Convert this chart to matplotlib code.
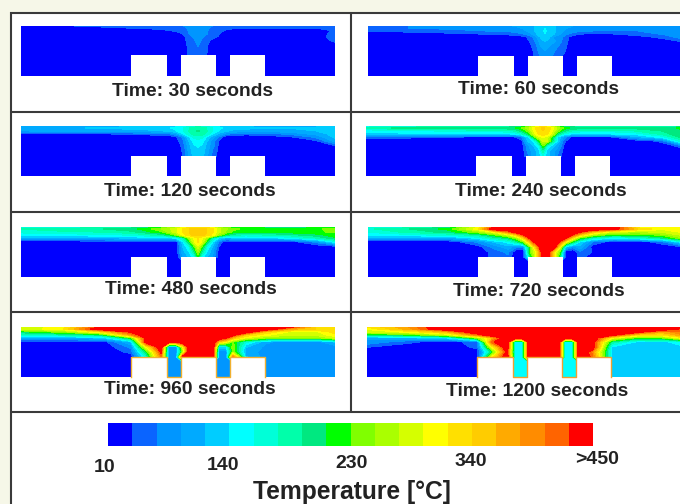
import matplotlib
matplotlib.use("Agg")
import matplotlib.pyplot as plt
import numpy as np
from matplotlib.colors import ListedColormap, BoundaryNorm
from matplotlib.patches import Rectangle

plt.rcParams['font.family'] = ['Liberation Sans', 'DejaVu Sans']

W, H = 680, 504
X = [0, 40, 80, 110, 125, 140, 148, 155, 162, 168, 173, 177, 181, 186, 192, 198, 205, 212, 225, 245, 270, 295, 314]
Y = [0, 2, 5, 8, 11, 15, 20, 25, 30, 36, 50]
BLOCKS = [(110, 146), (160, 195), (209, 244)]
BLOCK_TOP = 29.5
LEVELS = [10 + 22 * i for i in range(21)]
COLORS = ['#0000FF', '#0A64FF', '#0096FF', '#00AAFF', '#00CDFF', '#00FFFF', '#00FFD8', '#00FFAA', '#00E880', '#00FF00',
          '#80FF00', '#AAFF00', '#D5FF00', '#FFFF00', '#FFE000', '#FFCC00', '#FFAA00', '#FF8C00', '#FF6400', '#FF0000']
TICK_LABELS = ['10', '140', '230', '340', '>450']
TICK_X = [105, 223, 352, 471, 597]
TICK_Y = [467, 465, 464, 462, 460]

C10 = [10] * 23
T30 = [
 [28,32,38,42,45,48,50,52,55,60,66,70,66,60,55,50,46,44,42,40,40,40,40],
 [14,20,30,36,38,40,42,45,50,58,66,72,66,58,50,44,40,38,36,36,36,36,38],
 [10,10,14,18,22,28,32,36,44,56,66,72,66,56,44,36,30,24,20,18,18,18,36],
 [10,10,10,10,10,12,16,25,34,54,66,72,66,56,42,34,20,12,10,10,10,10,44],
 [10,10,10,10,10,10,10,14,28,40,60,70,60,46,40,30,14,10,10,10,10,16,46],
 [10,10,10,10,10,10,10,10,26,38,50,66,50,38,26,14,10,10,10,10,10,10,40],
 [10,10,10,10,10,10,10,10,24,36,44,56,44,34,14,10,10,10,10,10,10,10,14],
 [10,10,10,10,10,10,10,10,24,36,42,46,42,34,10,10,10,10,10,10,10,10,10],
 [10,10,10,10,10,10,10,10,20,36,42,44,42,30,10,10,10,10,10,10,10,10,10],
 C10, C10]
T60 = [
 [50,54,60,64,70,74,78,82,90,100,110,116,110,100,90,82,76,72,70,68,68,68,70],
 [42,54,60,64,66,68,72,78,88,102,114,120,114,102,88,78,70,66,64,62,62,64,72],
 [34,40,46,52,56,58,62,70,84,102,116,122,116,102,84,70,62,58,54,52,54,60,72],
 [14,18,26,32,36,40,46,54,70,96,114,120,114,100,78,58,46,34,26,32,44,56,70],
 [10,10,10,12,14,14,14,24,40,70,104,112,104,70,62,45,14,12,12,14,22,40,66],
 [10,10,10,10,10,10,10,14,34,60,90,100,90,80,60,38,14,10,10,10,10,20,36],
 [10,10,10,10,10,10,10,10,26,50,78,88,78,64,50,34,10,10,10,10,10,10,12],
 [10,10,10,10,10,10,10,10,20,44,66,76,66,56,44,30,10,10,10,10,10,10,10],
 [10,10,10,10,10,10,10,10,14,40,60,70,60,50,40,20,10,10,10,10,10,10,10],
 C10, C10]
T120 = [
 [70,80,90,95,100,105,110,115,125,140,150,155,150,140,125,115,105,100,95,92,90,92,95],
 [90,95,100,105,108,112,118,126,142,162,175,180,175,162,142,126,114,108,104,100,100,104,110],
 [75,80,84,88,92,96,104,118,140,165,182,188,182,165,140,118,102,92,88,84,88,98,110],
 [22,26,30,36,40,44,50,76,118,155,172,176,172,155,120,90,60,48,40,44,60,84,108],
 [10,10,10,12,14,14,14,30,60,118,150,156,150,118,85,50,14,14,14,18,30,60,104],
 [10,10,10,10,10,10,10,20,50,100,128,134,128,100,60,30,10,10,10,10,14,28,84],
 [10,10,10,10,10,10,10,14,40,90,118,122,118,90,60,26,10,10,10,10,10,10,30],
 [10,10,10,10,10,10,10,10,36,84,112,116,112,84,50,24,10,10,10,10,10,10,10],
 [10,10,10,10,10,10,10,10,34,80,106,110,106,80,45,20,10,10,10,10,10,10,10],
 C10, C10]
T240 = [
 [110,130,140,150,155,165,175,190,220,270,300,310,300,270,220,190,175,165,160,155,155,160,165],
 [170,195,195,195,195,200,205,225,265,310,335,345,335,310,265,225,205,200,195,195,195,200,210],
 [125,135,145,150,150,155,165,190,240,300,335,340,335,300,240,190,165,155,150,150,165,185,205],
 [110,115,115,115,115,118,122,150,200,285,325,330,325,285,190,140,120,118,115,120,130,170,205],
 [40,40,35,30,30,30,30,50,120,220,290,300,290,220,120,70,30,30,30,30,90,130,190],
 [10,10,10,10,10,10,10,20,100,130,210,280,280,200,110,40,10,10,10,10,14,40,150],
 [10,10,10,10,10,10,10,10,70,100,140,230,150,110,80,30,10,10,10,10,10,10,40],
 [10,10,10,10,10,10,10,10,60,90,110,175,110,90,60,20,10,10,10,10,10,10,10],
 [10,10,10,10,10,10,10,10,50,90,110,140,110,90,50,20,10,10,10,10,10,10,10],
 C10, C10]
T480 = [
 [120,140,155,170,190,210,240,260,290,310,320,325,320,310,290,250,230,215,200,195,190,195,200],
 [165,175,185,200,220,250,270,290,320,340,350,355,350,340,320,280,255,235,225,220,220,225,240],
 [150,160,165,180,200,225,260,290,320,340,350,355,350,340,320,280,250,225,215,210,220,225,235],
 [125,130,135,145,160,175,200,240,305,335,345,345,345,335,310,250,200,170,160,165,180,200,220],
 [85,90,95,100,110,110,115,125,170,260,300,320,300,260,170,120,90,100,105,110,130,165,205],
 [10,12,12,14,14,14,14,14,120,200,290,320,290,200,120,50,14,14,14,14,20,60,130],
 [10,10,10,10,10,10,10,10,100,140,220,290,220,140,90,30,10,10,10,10,10,10,12],
 [10,10,10,10,10,10,10,10,90,120,180,250,180,120,80,20,10,10,10,10,10,10,10],
 [10,10,10,10,10,10,10,10,80,100,130,210,130,100,70,14,10,10,10,10,10,10,10],
 C10, C10]
T720 = [
 [130,150,180,300,420,470,470,470,470,470,470,470,470,470,470,470,470,470,470,470,300,300,310],
 [160,185,215,310,470,480,480,480,480,480,480,480,480,480,480,480,480,480,480,455,340,300,320],
 [145,170,195,250,300,400,470,480,480,480,480,480,480,480,480,480,480,440,350,280,270,280,300],
 [125,135,150,175,220,280,340,420,480,480,480,480,480,480,480,480,420,340,260,210,210,240,280],
 [85,80,85,130,170,200,250,330,450,480,480,480,480,480,480,440,320,230,160,130,150,190,250],
 [10,10,12,60,100,130,170,230,350,470,480,480,480,480,420,300,200,120,50,20,14,50,130],
 [10,10,10,20,60,90,60,60,230,360,470,480,480,470,300,100,60,90,20,10,10,10,30],
 [10,10,10,16,40,60,10,10,230,300,420,480,450,320,230,10,10,50,30,10,10,10,10],
 [10,10,10,10,40,50,10,10,180,300,420,480,450,320,180,10,10,40,20,10,10,10,10],
 C10, C10]
T960 = [
 [290,300,440,480,480,480,480,480,480,480,480,480,480,480,480,480,480,480,480,480,440,340,330],
 [280,310,470,480,480,480,480,480,480,480,480,480,480,480,480,480,480,480,480,480,370,340,340],
 [200,240,320,440,480,480,480,480,480,480,480,480,480,480,480,480,480,480,470,340,290,290,330],
 [150,165,190,380,480,480,480,480,480,480,480,480,480,480,480,480,480,450,340,300,280,280,310],
 [90,90,100,220,450,480,480,480,480,480,480,480,480,480,480,480,440,350,290,250,240,240,280],
 [14,14,14,100,460,480,460,460,480,480,480,480,480,480,480,340,300,230,150,80,65,65,100],
 [10,10,10,60,300,480,65,65,300,480,480,480,480,480,480,120,120,250,100,70,65,65,65],
 [10,10,10,40,200,440,65,65,250,480,480,480,480,480,480,65,65,250,90,65,65,65,65],
 [10,10,10,14,150,400,65,65,480,480,480,480,480,480,480,65,65,400,100,65,65,65,65],
 [10,10,10,10,10,10,65,65,65,65,65,65,65,65,65,65,65,65,65,65,65,65,65],
 [10,10,10,10,10,10,65,65,65,65,65,65,65,65,65,65,65,65,65,65,65,65,65]]
T1200 = [
 [320,380,480,480,480,480,480,480,480,480,480,480,480,480,480,480,480,480,480,480,480,470,430],
 [300,370,480,480,480,480,480,480,480,480,480,480,480,480,480,480,480,480,480,480,480,480,420],
 [280,300,360,480,480,480,480,480,480,480,480,480,480,480,480,480,480,480,480,480,450,370,400],
 [190,210,270,400,480,480,480,480,480,480,480,480,480,480,480,480,480,480,480,450,330,320,380],
 [80,90,120,240,350,480,480,480,480,480,480,480,480,480,480,480,480,480,480,300,220,230,300],
 [70,40,14,50,420,480,125,125,480,480,480,480,480,480,480,125,125,480,470,180,115,115,130],
 [34,14,10,40,300,480,125,125,480,480,480,480,480,480,480,125,125,480,480,120,115,115,115],
 [10,10,10,20,200,450,125,125,480,480,480,480,480,480,480,125,125,480,400,115,115,115,115],
 [10,10,10,14,300,480,125,125,480,480,480,480,480,480,480,125,125,480,420,115,115,115,115],
 [10,10,10,14,14,14,125,125,125,125,125,125,125,125,125,125,125,125,115,115,115,115,115],
 [10,10,10,14,14,14,125,125,125,125,125,125,125,125,125,125,125,125,115,115,115,115,115]]

PANELS = [
 (T30, 21, 25.5, 'Time: 30 seconds', 193, 91, None),
 (T60, 368, 26, 'Time: 60 seconds', 538, 89, None),
 (T120, 21, 126, 'Time: 120 seconds', 190, 191, None),
 (T240, 366, 126, 'Time: 240 seconds', 541, 191, None),
 (T480, 21, 227, 'Time: 480 seconds', 191, 289, None),
 (T720, 368, 227, 'Time: 720 seconds', 539, 291, None),
 (T960, 21, 327, 'Time: 960 seconds', 190, 390, '#F0B030'),
 (T1200, 367, 327, 'Time: 1200 seconds', 537, 392, '#F0A030'),
]

cmap = ListedColormap(COLORS)
cmap.set_over(COLORS[-1])
cmap.set_under(COLORS[0])
norm = BoundaryNorm(LEVELS, cmap.N, extend='neither', clip=False)

fig = plt.figure(figsize=(W / 100, H / 100), dpi=100, facecolor='#F6F7E8')


def axes_px(x0, y0, w, h, **kw):
    return fig.add_axes([x0 / W, 1 - (y0 + h) / H, w / W, h / H], **kw)


bg = axes_px(0, 0, W, H)
bg.set_xlim(0, W)
bg.set_ylim(H, 0)
bg.axis('off')
bg.add_patch(Rectangle((10.5, 12.5), W, H, fc='white', ec='none'))
line = dict(color='#3A3A3A', lw=1.5, solid_capstyle='butt')
bg.plot([10.5, 10.5], [12, H], **line)
bg.plot([10, W], [12.5, 12.5], **line)
bg.plot([351, 351], [12, 412], **line)
for yy in [111.5, 212, 312, 412]:
    bg.plot([10, W], [yy, yy], **line)

txt = dict(family=['Liberation Sans', 'DejaVu Sans'], fontweight='bold', color='#222222', ha='center', va='center')
for T, left, top, label, lx, ly, edge in PANELS:
    ax = axes_px(left, top, 314, 50)
    ax.set_xlim(0, 314)
    ax.set_ylim(50, 0)
    ax.axis('off')
    ax.contourf(X, Y, np.array(T, float), levels=LEVELS, cmap=cmap, norm=norm, extend='both')
    for b0, b1 in BLOCKS:
        ax.add_patch(Rectangle((b0, BLOCK_TOP), b1 - b0, 21, fc='white', ec='none', zorder=5))
    if edge:
        xs, ys = [], []
        for b0, b1 in BLOCKS:
            xs += [b0, b0, b1, b1]
            ys += [50, BLOCK_TOP, BLOCK_TOP, 50]
        ax.plot(xs, ys, color=edge, lw=1.0, zorder=6, clip_on=False)
    bg.text(lx, ly, label, fontsize=13.9, **txt)

cax = axes_px(108, 423, 485, 23)
cax.pcolormesh(LEVELS, [0, 1], np.array([[(a + b) / 2 for a, b in zip(LEVELS[:-1], LEVELS[1:])]]), cmap=cmap, norm=norm)
cax.axis('off')
for lab, tx, ty in zip(TICK_LABELS, TICK_X, TICK_Y):
    bg.text(tx, ty, lab, fontsize=14, **txt)
bg.text(352, 492, 'Temperature [°C]', fontsize=17.7, **txt)

fig.savefig('out.png', dpi=100, facecolor=fig.get_facecolor())
